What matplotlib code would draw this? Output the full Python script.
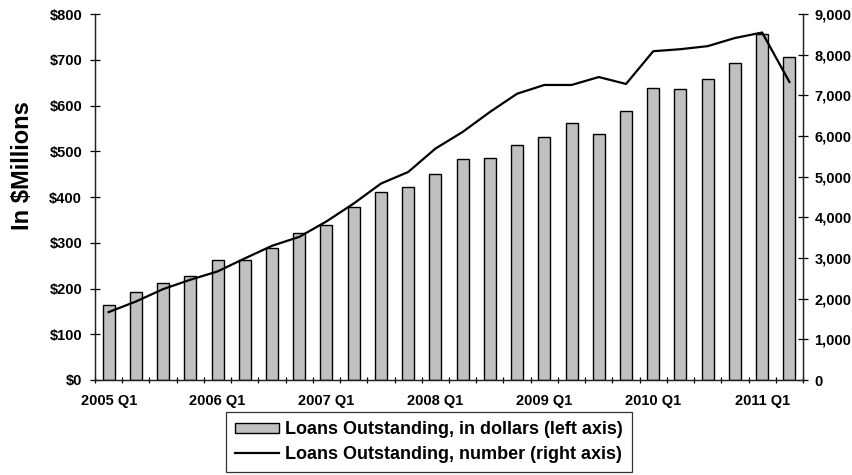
import matplotlib

matplotlib.use("Agg")
import matplotlib.pyplot as plt
from matplotlib.ticker import FixedLocator, FuncFormatter
import numpy as np

plt.rcParams["font.family"] = ["Liberation Sans", "DejaVu Sans"]
plt.rcParams["font.weight"] = "bold"

# quarters 2005 Q1 .. 2011 Q2
QUARTERS = [f"{y} Q{q}" for y in range(2005, 2012) for q in range(1, 5)][:26]

# loans outstanding, $ millions (left axis)
DOLLARS = [163, 193, 212, 228, 262, 263, 289, 321, 338, 379, 410, 422, 451,
           483, 485, 514, 531, 561, 538, 589, 639, 637, 657, 694, 756, 705]

# number of loans outstanding (right axis)
NUMBER = [1670, 1930, 2235, 2465, 2670, 2990, 3300, 3520, 3900, 4340, 4830,
          5115, 5690, 6100, 6590, 7040, 7255, 7255, 7450, 7280, 8085, 8135,
          8210, 8410, 8545, 7330]


def main():
    x = np.arange(len(QUARTERS))
    fig = plt.figure(figsize=(8.53, 4.75), dpi=100)
    ax = fig.add_axes([0.1114, 0.2, 0.83, 0.7705])
    ax2 = ax.twinx()

    bars = ax.bar(x, DOLLARS, width=0.44, color="#c0c0c0", edgecolor="black",
                  linewidth=1.0, label="Loans Outstanding, in dollars (left axis)")
    line, = ax2.plot(x, NUMBER, color="black", linewidth=1.6,
                     label="Loans Outstanding, number (right axis)")

    ax.set_xlim(-0.5, len(x) - 0.5)
    ax.set_ylim(0, 800)
    ax2.set_ylim(0, 9000)
    ax.set_yticks(np.arange(0, 801, 100))
    ax2.set_yticks(np.arange(0, 9001, 1000))
    ax.yaxis.set_major_formatter(FuncFormatter(lambda v, p: f"${v:,.0f}"))
    ax2.yaxis.set_major_formatter(FuncFormatter(lambda v, p: f"{v:,.0f}"))

    label_pos = x[::4]
    ax.set_xticks(label_pos)
    ax.set_xticklabels([QUARTERS[i] for i in label_pos])
    ax.xaxis.set_minor_locator(FixedLocator(np.arange(-0.5, len(x), 1.0)))
    ax.tick_params(axis="x", which="major", length=0, pad=10, labelsize=10.5)
    ax.tick_params(axis="x", which="minor", direction="inout", length=5, width=0.9)
    ax.tick_params(axis="y", direction="inout", length=6.5, width=0.9,
                   labelsize=10.5, pad=6)
    ax2.tick_params(axis="y", direction="inout", length=6.5, width=0.9,
                    labelsize=10.5, pad=5)

    for a in (ax, ax2):
        a.spines["top"].set_visible(False)
        for s in ("left", "right", "bottom"):
            a.spines[s].set_color("#222222")
            a.spines[s].set_linewidth(0.9)
    fig.text(23 / 853, 1 - 166 / 475, "In $Millions", rotation=90,
             ha="center", va="center", fontsize=17, fontweight="bold")

    leg = fig.legend([bars, line], [bars.get_label(), line.get_label()],
                     loc="center", bbox_to_anchor=(0.503, 0.0695), ncol=1,
                     fontsize=13, frameon=True, fancybox=False, handlelength=2.4,
                     handleheight=0.45, borderpad=0.5, labelspacing=0.42,
                     handletextpad=0.35, borderaxespad=0)
    leg.get_frame().set_edgecolor("black")
    leg.get_frame().set_linewidth(0.9)

    fig.savefig("out.png", dpi=100)
    plt.close(fig)


if __name__ == "__main__":
    main()
